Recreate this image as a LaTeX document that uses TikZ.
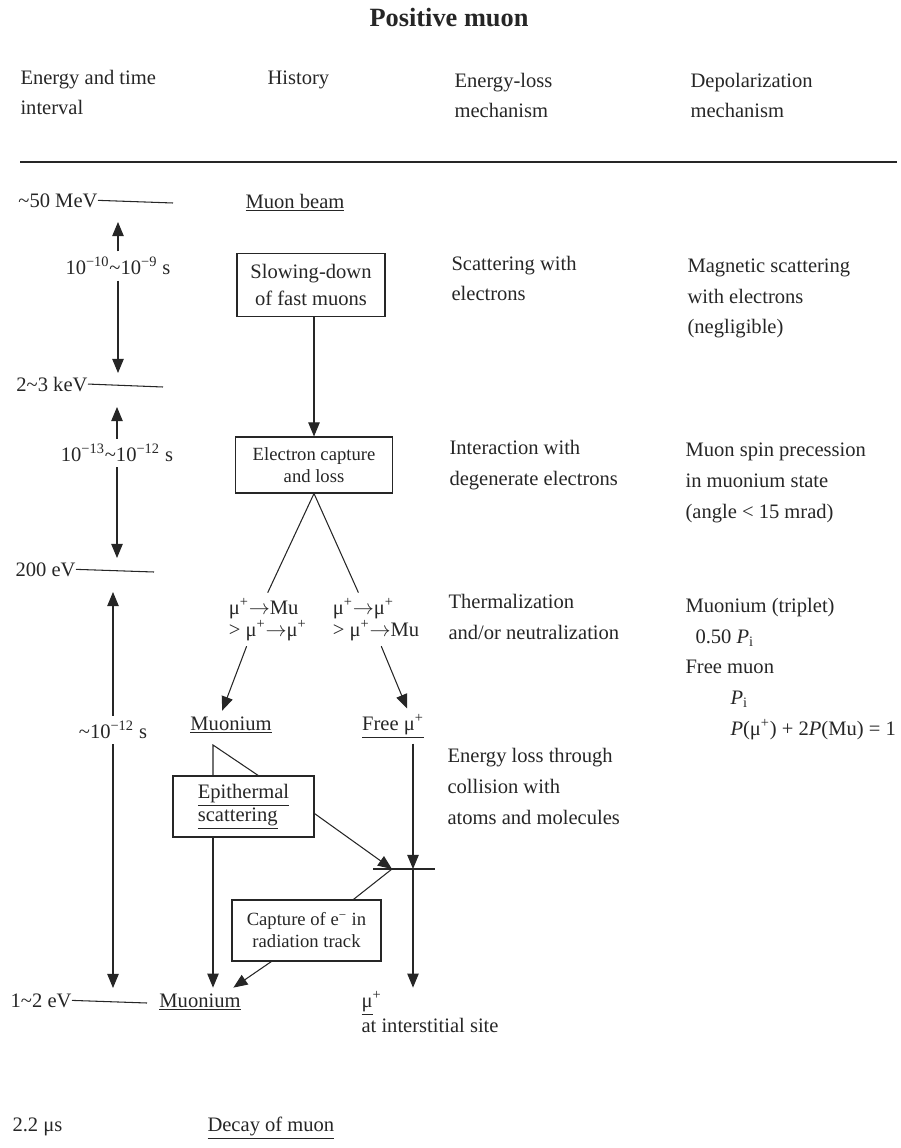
\documentclass[tikz,border=0pt]{standalone}
\usepackage{fontspec}
\setmainfont{Liberation Serif}
\usepackage{tikz}
\usetikzlibrary{arrows.meta}
\newcommand{\bodyfont}{\fontsize{11.7}{17.4}\selectfont}
\newcommand{\boxfont}{\fontsize{10.6}{12.5}\selectfont}
\newcommand{\goesto}{\ensuremath{\rightarrow}}
\tikzstyle{stage} = [rectangle, draw, align=center, inner sep=2pt, font=\bodyfont]
\tikzstyle{smallstage} = [stage, font=\boxfont]
\tikzstyle{note} = [align=left, anchor=base west, inner sep=0pt, font=\bodyfont]
\tikzstyle{tier} = [anchor=mid east, inner sep=0pt, font=\bodyfont]
\tikzstyle{span} = [inner sep=3pt, font=\bodyfont]
\tikzstyle{entry} = [anchor=mid, inner sep=3pt, font=\bodyfont]
\tikzstyle{branch} = [align=left, anchor=base west, inner sep=3pt, font=\bodyfont]
\tikzstyle{arrow} = [->, >={Triangle[length=8pt,width=6.5pt]}]

\begin{document}
\begin{tikzpicture}[x=0.02cm, y=-0.02cm, line width=0.6pt, black!85]
	\useasboundingbox (0,0) rectangle (901,1148);

	\node (title) [anchor=base, font=\fontsize{15}{18}\selectfont\bfseries] at (449,27) {Positive muon};

	\node (hEnergy) [note] at (20,115) {Energy and time\\interval};
	\node (hHistory) [note] at (267,85) {History};
	\node (hLoss) [note] at (454,118) {Energy-loss\\mechanism};
	\node (hDepol) [note] at (690,118) {Depolarization\\mechanism};
	\draw (20,162) -- (897,162);

	\node (lv1) [tier] at (98,203) {\textasciitilde50 MeV};
	\node (lv2) [tier] at (88,387) {2\textasciitilde3 keV};
	\node (lv3) [tier] at (76,572) {200 eV};
	\node (lv4) [tier] at (72,1003) {1\textasciitilde2 eV};
	\node (life) [anchor=mid west, inner sep=0pt, font=\bodyfont] at (12,1127) {2.2 μs};
	\coordinate (lv1e) at (173,203);
	\coordinate (lv2e) at (163,387);
	\coordinate (lv3e) at (154,572);
	\coordinate (lv4e) at (147,1003);

	\node (span1) [span] at (118,266) {10\textsuperscript{−10}\textasciitilde10\textsuperscript{−9} s};
	\node (span2) [span] at (117,453) {10\textsuperscript{−13}\textasciitilde10\textsuperscript{−12} s};
	\node (span3) [span] at (113,730) {\textasciitilde10\textsuperscript{−12} s};
	\coordinate (span1u) at (118,222);
	\coordinate (span1d) at (118,373);
	\coordinate (span2u) at (117,407);
	\coordinate (span2d) at (117,558);
	\coordinate (span3u) at (113,592);
	\coordinate (span3d) at (113,988);

	\node (beam) [entry] at (295,204) {\underline{Muon beam}};
	\node (slow) [stage, minimum width=2.96cm, minimum height=1.26cm, font=\fontsize{11.7}{15.4}\selectfont] at (311,285) {Slowing-down\\of fast muons};
	\node (ecap) [smallstage, minimum width=3.14cm, minimum height=1.12cm] at (314,465) {Electron capture\\and loss};
	\node (lab1) [branch] at (223,636) {μ\textsuperscript{+}\goesto Mu\\[-5pt]> μ\textsuperscript{+}\goesto μ\textsuperscript{+}};
	\node (lab2) [branch] at (327,636) {μ\textsuperscript{+}\goesto μ\textsuperscript{+}\\[-5pt]> μ\textsuperscript{+}\goesto Mu};
	\node (mu1) [entry] at (231,726) {\underline{Muonium}};
	\node (free) [entry] at (393,726) {\underline{Free μ\textsuperscript{+}}};
	\node (epi) [stage, align=left, minimum width=2.82cm, minimum height=1.22cm, font=\fontsize{11.7}{10.8}\selectfont] at (243.5,806.5) {\underline{Epithermal}\\\underline{scattering}};
	\node (cap) [smallstage, minimum width=2.98cm, minimum height=1.22cm] at (306.5,930.5) {Capture of e\textsuperscript{−} in\\radiation track};
	\node (mu2) [entry] at (200,1003) {\underline{Muonium}};
	\node (site) [note, font=\fontsize{11.7}{14.2}\selectfont] at (361,1032) {\underline{μ}\textsuperscript{+}\\at interstitial site};
	\node (decay) [anchor=mid west, inner sep=0pt, font=\bodyfont] at (207,1127) {\underline{Decay of muon}};
	\coordinate (tri) at (213,745);
	\coordinate (trib) at (259,776);
	\coordinate (jl) at (392,869);
	\coordinate (jn) at (413,869);
	\coordinate (tickl) at (373,869);
	\coordinate (tickr) at (435,869);

	\node (el1) [note] at (451,301) {Scattering with\\electrons};
	\node (el2) [note] at (449,485) {Interaction with\\degenerate electrons};
	\node (el3) [note] at (448,639) {Thermalization\\and/or neutralization};
	\node (el4) [note] at (447,824) {Energy loss through\\collision with\\atoms and molecules};
	\node (dp1) [note] at (687,334) {Magnetic scattering\\with electrons\\(negligible)};
	\node (dp2) [note] at (685,518) {Muon spin precession\\in muonium state\\(angle < 15 mrad)};
	\node (dp3) [note] at (685,735) {Muonium (triplet)\\\hspace*{5.7pt}0.50 \textit{P}\textsubscript{i}\\Free muon\\\hspace*{25.6pt}\textit{P}\textsubscript{i}\\\hspace*{25.6pt}\textit{P}(μ\textsuperscript{+}) + 2\textit{P}(Mu) = 1};

	\draw (lv1.east) -- (lv1e);
	\draw (lv2.east) -- (lv2e);
	\draw (lv3.east) -- (lv3e);
	\draw (lv4.east) -- (lv4e);
	\draw [arrow] (span1.north) -- (span1u);
	\draw [arrow] (span1.south) -- (span1d);
	\draw [arrow] (span2.north) -- (span2u);
	\draw [arrow] (span2.south) -- (span2d);
	\draw [arrow] (span3.north) -- (span3u);
	\draw [arrow] (span3.south) -- (span3d);

	\draw [arrow] (ecap.north |- slow.south) -- (ecap.north);
	\draw (ecap.south) -- (lab1.north);
	\draw (ecap.south) -- ([xshift=-10pt]lab2.north);
	\draw [arrow] ([xshift=-12pt]lab1.south) -- ([xshift=-5pt]mu1.north);
	\draw [arrow] ([xshift=3pt]lab2.south) -- ([xshift=8pt]free.north);
	\draw (trib) -- (tri) -- (tri |- epi.north);
	\draw [arrow] (tri |- epi.south) -- (tri |- mu2.north);
	\draw [arrow] ([yshift=-4pt]epi.east) -- (jl);
	\draw [arrow] (jn |- free.south) -- (jn);
	\draw (tickl) -- (tickr);
	\draw [arrow] (jn) -- (jn |- mu2.north);
	\draw (jl) -- ([xshift=-16pt]cap.north east);
	\draw [arrow] ([xshift=-20pt]cap.south) -- ([xshift=19pt]mu2.north);
\end{tikzpicture}
\end{document}
